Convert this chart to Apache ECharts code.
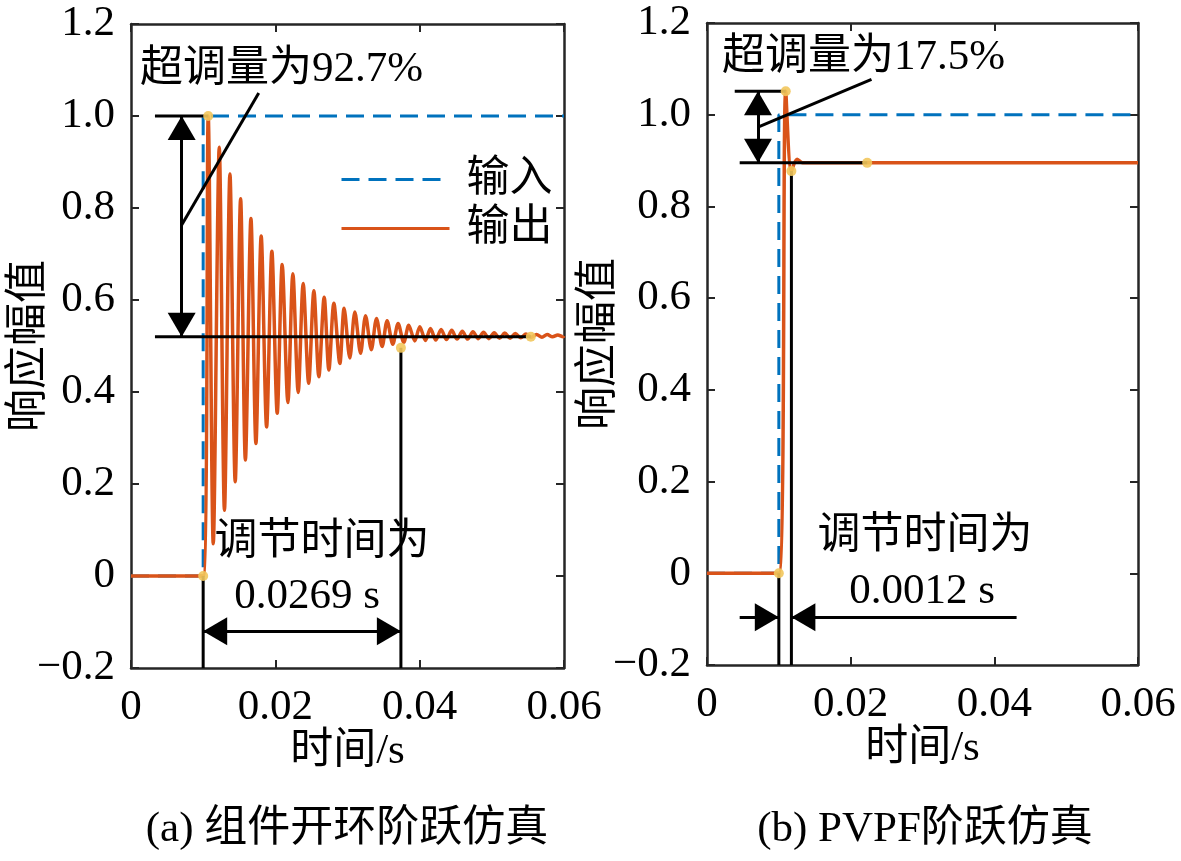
<!DOCTYPE html>
<html>
<head>
<meta charset="utf-8">
<script src="https://cdn.jsdelivr.net/npm/echarts@6/dist/echarts.min.js"></script>
<style>
html,body{margin:0;padding:0;background:#fff;}
#main{width:1181px;height:861px;}
</style>
</head>
<body>
<div id="main"></div>
<script>
// 输入阶跃
var inputTime = [0, 0.01, 0.01, 0.06];
var inputVal = [0, 0, 1, 1];

// (a) 组件开环：输出的峰/谷
var outATime = [0, 0.0100,
  0.0107, 0.0114, 0.01223, 0.01295, 0.01371, 0.01444, 0.01519, 0.01585, 0.01662, 0.01731,
  0.01804, 0.01879, 0.01952, 0.02026, 0.02095, 0.02174, 0.02243, 0.02317, 0.02386, 0.02462,
  0.02534, 0.02603, 0.02677, 0.02742, 0.02811, 0.02894, 0.02953, 0.03032, 0.03102, 0.03181,
  0.03250, 0.03330, 0.03402, 0.03480, 0.03549, 0.03628, 0.03701, 0.03780, 0.03849, 0.03932,
  0.04002, 0.04081, 0.04150, 0.04223, 0.04297, 0.04371, 0.04444, 0.04518, 0.04591, 0.04665,
  0.04738, 0.04812, 0.04885, 0.04959, 0.05032, 0.05106, 0.05179, 0.05253, 0.05326, 0.05400,
  0.05473, 0.05547, 0.05620, 0.05694, 0.05767, 0.05841, 0.05914, 0.05988,
  0.0600];
var outAVal = [0, 0,
  1.000, 0.070, 0.932, 0.143, 0.874, 0.205, 0.820, 0.252, 0.777, 0.288,
  0.739, 0.324, 0.706, 0.354, 0.677, 0.377, 0.657, 0.399, 0.636, 0.419,
  0.620, 0.433, 0.606, 0.448, 0.593, 0.462, 0.582, 0.474, 0.574, 0.484,
  0.566, 0.492, 0.560, 0.499, 0.555, 0.504, 0.549, 0.508, 0.545, 0.511,
  0.542, 0.512, 0.538, 0.513, 0.536, 0.514, 0.534, 0.515, 0.532, 0.515,
  0.531, 0.516, 0.530, 0.516, 0.529, 0.517, 0.528, 0.517, 0.527, 0.518,
  0.526, 0.519, 0.525, 0.519, 0.525, 0.520, 0.524, 0.520,
  0.522];

// (b) PVPF
var outBTime = [0, 0.0100, 0.01096, 0.01175, 0.01253, 0.0133, 0.06];
var outBVal = [0, 0, 1.051, 0.877, 0.903, 0.895, 0.895];

// 标记点
var dotsA = [[0.01, 0], [0.0107, 1.0], [0.0374, 0.496], [0.0554, 0.52]];
var dotsB = [[0.01, 0], [0.01096, 1.051], [0.01175, 0.877], [0.0223, 0.895]];

// 标注线（数据坐标）
var linesA = [
  [[0.00332, 1.0], [0.0107, 1.0]],
  [[0.00332, 0.52], [0.0554, 0.52]],
  [[0.00702, 0.763], [0.0177, 1.05]],
  [[0.01, 0], [0.01, -0.2]],
  [[0.0374, 0.496], [0.0374, -0.2]]
];
var arrowsA = [
  [[0.00702, 0.52], [0.00702, 1.0], 'both'],
  [[0.01, -0.12], [0.0374, -0.12], 'both']
];
var linesB = [
  [[0.00386, 1.051], [0.01096, 1.051]],
  [[0.00455, 0.895], [0.0223, 0.895]],
  [[0.0071, 0.973], [0.0229, 1.077]],
  [[0.01, 0], [0.01, -0.2]],
  [[0.01175, 0.877], [0.01175, -0.2]]
];
var arrowsB = [
  [[0.0071, 0.895], [0.0071, 1.051], 'both'],
  [[0.00455, -0.0957], [0.01, -0.0957], 'end'],
  [[0.0431, -0.0957], [0.01175, -0.0957], 'end']
];

var xTicks = [0, 0.02, 0.04, 0.06];
var yTicks = [-0.2, 0, 0.2, 0.4, 0.6, 0.8, 1.0, 1.2];

var FONT = "'Liberation Serif','Noto Sans CJK SC',serif";
var FS = 43;
var BLUE = '#0072BD', ORANGE = '#D95319', DOT = '#F2C75C', AX = '#262626';

function pairs(t, v) {
  return t.map(function (x, i) { return [x, v[i]]; });
}

function xAx(grid, pos, withLabel) {
  return {
    type: 'value', gridIndex: grid, position: pos,
    min: xTicks[0], max: xTicks[xTicks.length - 1], interval: xTicks[1] - xTicks[0],
    axisLine: {show: true, onZero: false, lineStyle: {color: AX, width: 2.5}},
    axisTick: {show: true, inside: true, length: 8, lineStyle: {color: AX, width: 2}},
    axisLabel: {show: withLabel, margin: 18, color: '#000', fontFamily: FONT, fontSize: FS,
      formatter: function (v) { return v === 0 ? '0' : v.toFixed(2); }},
    splitLine: {show: false},
    name: withLabel ? '时间/s' : '', nameLocation: 'middle', nameGap: 62, nameMoveOverlap: false,
    nameTextStyle: {color: '#000', fontFamily: FONT, fontSize: FS}
  };
}

function yAx(grid, pos, withLabel, gap) {
  return {
    type: 'value', gridIndex: grid, position: pos,
    min: yTicks[0], max: yTicks[yTicks.length - 1], interval: 0.2,
    axisLine: {show: true, onZero: false, lineStyle: {color: AX, width: 2.5}},
    axisTick: {show: true, inside: true, length: 8, lineStyle: {color: AX, width: 2}},
    axisLabel: {show: withLabel, margin: 16, color: '#000', fontFamily: FONT, fontSize: FS,
      formatter: function (v) {
        if (Math.abs(v) < 1e-9) return '0';
        return v < 0 ? '\u2212' + Math.abs(v).toFixed(1) : v.toFixed(1);
      }},
    splitLine: {show: false},
    name: withLabel ? '响应幅值' : '', nameLocation: 'middle', nameGap: gap || 80, nameMoveOverlap: false,
    nameTextStyle: {color: '#000', fontFamily: FONT, fontSize: FS}
  };
}

function panelSeries(ax, outT, outV, dots, lines, arrows) {
  var s = [];
  s.push({
    name: '输入', type: 'line', xAxisIndex: ax, yAxisIndex: ax,
    data: pairs(inputTime, inputVal), symbol: 'none', z: 2,
    lineStyle: {color: BLUE, width: 3, type: [18, 9]}, itemStyle: {color: BLUE}
  });
  s.push({
    name: '输出', type: 'line', xAxisIndex: ax, yAxisIndex: ax,
    data: pairs(outT, outV), symbol: 'none', z: 3, smooth: 0.3,
    lineStyle: {color: ORANGE, width: 3.5, join: 'round'}, itemStyle: {color: ORANGE}
  });
  lines.forEach(function (seg) {
    s.push({
      type: 'line', xAxisIndex: ax, yAxisIndex: ax, data: seg, symbol: 'none', z: 5,
      lineStyle: {color: '#000', width: 3}, silent: true
    });
  });
  s.push({
    type: 'line', xAxisIndex: ax, yAxisIndex: ax, data: [], z: 6,
    markLine: {
      silent: true, animation: false,
      symbolSize: [28, 24], symbolOffset: [[0, '50%'], [0, '50%']],
      lineStyle: {color: '#000', width: 3, type: 'solid'},
      itemStyle: {color: '#000'},
      label: {show: false},
      data: arrows.map(function (a) {
        return [
          {coord: a[0], symbol: a[2] === 'both' ? 'triangle' : 'none'},
          {coord: a[1], symbol: 'triangle'}
        ];
      })
    }
  });
  s.push({
    type: 'scatter', xAxisIndex: ax, yAxisIndex: ax, data: dots, z: 7,
    symbolSize: 10, itemStyle: {color: DOT, opacity: 0.9}
  });
  return s;
}

function txt(x, y, s, align) {
  return {
    type: 'text', x: x, y: y, z: 100,
    style: {text: s, fill: '#000', font: FS + 'px ' + FONT,
      align: align || 'center', verticalAlign: 'middle',
      textAlign: align || 'center', textVerticalAlign: 'middle'}
  };
}

var chart = echarts.init(document.getElementById('main'));
chart.setOption({
  animation: false,
  backgroundColor: '#fff',
  grid: [
    {left: 131, top: 24, width: 433, height: 644, outerBoundsMode: 'none', containLabel: false},
    {left: 707, top: 23, width: 431, height: 642, outerBoundsMode: 'none', containLabel: false}
  ],
  xAxis: [xAx(0, 'bottom', true), xAx(0, 'top', false), xAx(1, 'bottom', true), xAx(1, 'top', false)],
  yAxis: [yAx(0, 'left', true, 80), yAx(0, 'right', false), yAx(1, 'left', true, 86), yAx(1, 'right', false)],
  legend: {
    data: ['输入', '输出'], orient: 'vertical', left: 340, top: 158,
    itemWidth: 108, itemHeight: 14, itemGap: 6, padding: 0,
    itemStyle: {opacity: 0},
    lineStyle: {width: 3},
    textStyle: {color: '#000', fontFamily: FONT, fontSize: FS, padding: [0, 0, 0, 12]},
    selectedMode: false
  },
  series: panelSeries(0, outATime, outAVal, dotsA, linesA, arrowsA)
    .concat(panelSeries(2, outBTime, outBVal, dotsB, linesB, arrowsB)),
  graphic: [
    txt(140, 70, '超调量为92.7%', 'left'),
    txt(322, 543, '调节时间为'),
    txt(307, 597, '0.0269 s'),
    txt(722, 58, '超调量为17.5%', 'left'),
    txt(925, 537, '调节时间为'),
    txt(922, 592, '0.0012 s'),
    txt(347, 830, '(a) 组件开环阶跃仿真'),
    txt(925, 830, '(b) PVPF阶跃仿真')
  ]
});
</script>
</body>
</html>
